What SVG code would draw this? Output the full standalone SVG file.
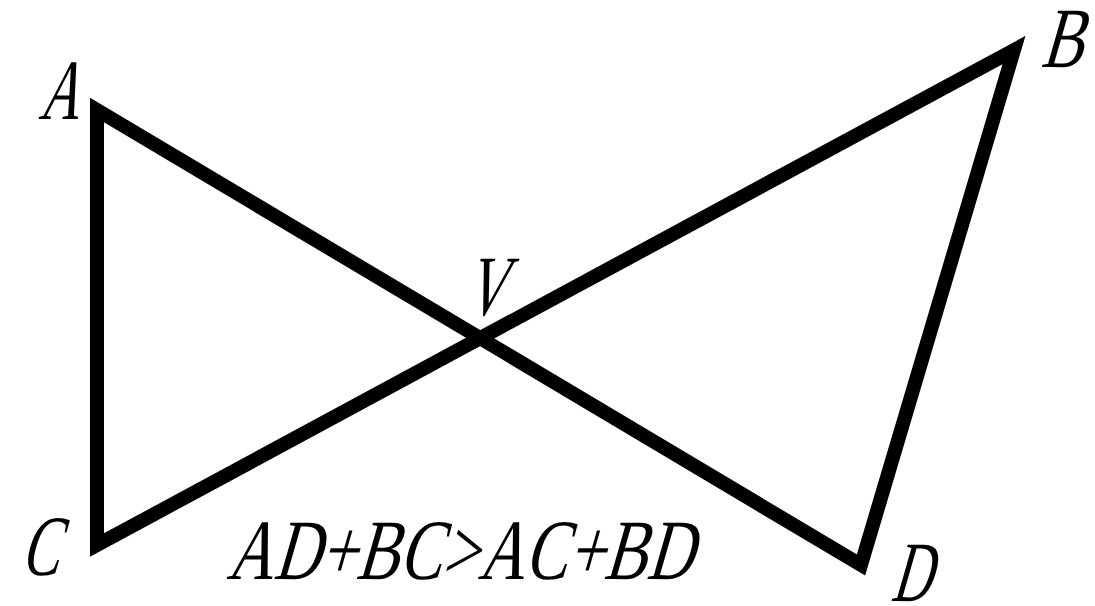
<svg xmlns="http://www.w3.org/2000/svg" width="1095" height="606" viewBox="0 0 1095 606">
<style>
.lbl{font-family:"Liberation Serif","Times New Roman",serif;font-style:normal;font-size:86px;fill:#000}
.edge{fill:none;stroke:#000;stroke-width:14;stroke-linejoin:miter;stroke-miterlimit:6}
</style>
<rect width="1095" height="606" fill="#fff"/>
<g id="connectors">
<path class="edge" d="M97,110 L861,565 L1014,50 L97,545 Z"/>
</g>
<g id="A" transform="translate(38,119) skewX(-16)"><text class="lbl" x="0" y="0" textLength="40" lengthAdjust="spacingAndGlyphs">A</text></g>
<g id="B" transform="translate(1040,67) skewX(-16)"><text class="lbl" x="0" y="0" textLength="42" lengthAdjust="spacingAndGlyphs">B</text></g>
<g id="C" transform="translate(20,575) skewX(-16)"><text class="lbl" x="0" y="0" textLength="38" lengthAdjust="spacingAndGlyphs">C</text></g>
<g id="D" transform="translate(890,601) skewX(-16)"><text class="lbl" x="0" y="0" textLength="40" lengthAdjust="spacingAndGlyphs">D</text></g>
<g id="V" transform="translate(464,315) skewX(-16)"><text class="lbl" x="0" y="0" textLength="40" lengthAdjust="spacingAndGlyphs">V</text></g>
<g id="eq" transform="translate(226,579) skewX(-16)"><text class="lbl" x="0" y="0" textLength="466" lengthAdjust="spacingAndGlyphs">AD+BC&gt;AC+BD</text></g>
</svg>
